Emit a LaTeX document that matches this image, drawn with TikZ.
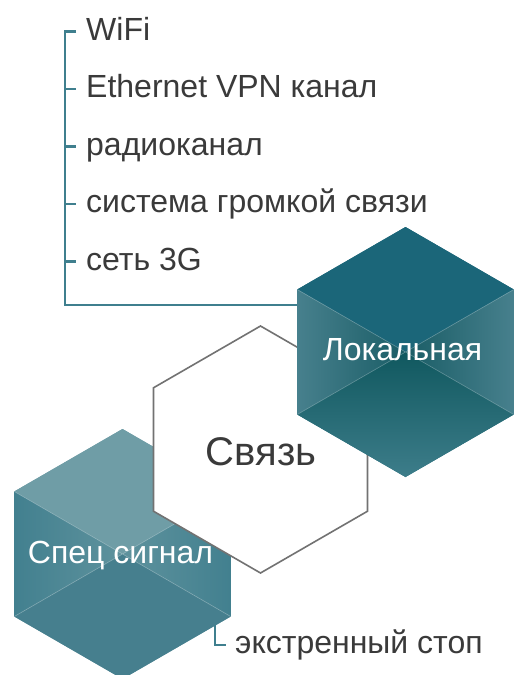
\documentclass[tikz,border=0pt]{standalone}
\usepackage{fontspec}
\setmainfont{Liberation Sans}
\definecolor{txt}{HTML}{3A3A3A}
\definecolor{brk}{HTML}{3F7F8E}
\definecolor{hexline}{HTML}{727272}
% Local hex colours
\definecolor{Ltop}{HTML}{1B6679}
\definecolor{Ledge}{HTML}{47808D}
\definecolor{Lmid}{HTML}{1A5D66}
\definecolor{Lbtop}{HTML}{10585F}
\definecolor{Lbbot}{HTML}{3D7D8A}
% Spec hex colours
\definecolor{Stop}{HTML}{6F9DA6}
\definecolor{Sedge}{HTML}{42808F}
\definecolor{Smid}{HTML}{5E929D}
\definecolor{Sbot}{HTML}{467F8E}
\newcommand{\defhex}[4]{%
  \coordinate (#1-c)  at (#2,#3);
  \coordinate (#1-t)  at (#2,{#3-#4});
  \coordinate (#1-b)  at (#2,{#3+#4});
  \coordinate (#1-ul) at ({#2-0.8660254*#4},{#3-0.5*#4});
  \coordinate (#1-ll) at ({#2-0.8660254*#4},{#3+0.5*#4});
  \coordinate (#1-ur) at ({#2+0.8660254*#4},{#3-0.5*#4});
  \coordinate (#1-lr) at ({#2+0.8660254*#4},{#3+0.5*#4});
}
\newcommand{\hexpath}[1]{(#1-t) -- (#1-ur) -- (#1-lr) -- (#1-b) -- (#1-ll) -- (#1-ul) -- cycle}
\newcommand{\pyrhex}[6]{% name, top, edge, mid, bottom-top, bottom-bottom
  \fill[#2] \hexpath{#1};
  \fill[#2] (#1-ul) -- (#1-t) -- (#1-ur) -- (#1-c) -- cycle;
  \shade[left color=#3, right color=#4] (#1-ul) -- (#1-c) -- (#1-ll) -- cycle;
  \shade[left color=#4, right color=#3] (#1-ur) -- (#1-c) -- (#1-lr) -- cycle;
  \shade[top color=#5, bottom color=#6] (#1-ll) -- (#1-c) -- (#1-lr) -- (#1-b) -- cycle;
  \draw[white, opacity=0.3, line width=0.6pt] (#1-ul) -- (#1-lr) (#1-ur) -- (#1-ll);
}
\tikzset{
  bracket/.style={draw=brk, line width=2.2pt, line cap=butt, line join=miter},
  itemtext/.style={text=txt, font=\fontsize{32}{36}\selectfont, inner sep=0pt},
  hextext/.style={text=white, font=\fontsize{32}{36}\selectfont, inner sep=0pt},
  bigtext/.style={text=txt, font=\fontsize{40}{44}\selectfont, inner sep=0pt},
  outline/.style={draw=hexline, line width=1.6pt, fill=white, line join=miter}
}
\begin{document}
\begin{tikzpicture}[x=1pt,y=-1pt]
\useasboundingbox (0,0) rectangle (525,675);
\fill[white] (0,0) rectangle (525,675);

\defhex{S}{122.5}{554}{125}
\defhex{V}{260.5}{449.5}{123.5}
\defhex{L}{405.5}{352}{125}

% Spec signal hexagon
\pyrhex{S}{Stop}{Sedge}{Smid}{Sbot}{Sbot}
\node[hextext, anchor=base] (spec) at (120.5,563.3) {Спец сигнал};

% Svyaz hexagon
\path[outline] \hexpath{V};
\node[bigtext, anchor=base] (svyaz) at (261,465) {Связь};

% Local hexagon
\pyrhex{L}{Ltop}{Ledge}{Lmid}{Lbtop}{Lbbot}
\node[hextext, anchor=base] (local) at (402.5,360) {Локальная};

% list items
\node[itemtext, anchor=base west] (i1) at (86,40) {WiFi};
\node[itemtext, anchor=base west] (i2) at (86,97.5) {Ethernet VPN канал};
\node[itemtext, anchor=base west] (i3) at (86,155) {радиоканал};
\node[itemtext, anchor=base west] (i4) at (86,212.5) {система громкой связи};
\node[itemtext, anchor=base west] (i5) at (86,270) {сеть 3G};

\coordinate (t1) at (65,31.5);
\coordinate (t2) at (65,89);
\coordinate (t3) at (65,146.5);
\coordinate (t4) at (65,204);
\coordinate (t5) at (65,261.5);
\coordinate (bc) at (65,305);
\draw[bracket] ([xshift=11pt]t1) -- (t1) -- (bc) -- (bc -| L-ul);
\foreach \t in {t2,t3,t4,t5} \draw[bracket] (\t) -- ++(11,0);

% emergency stop
\node[itemtext, anchor=base west] (stop) at (235,653.3) {экстренный стоп};
\coordinate (e0) at (215,625);
\coordinate (e1) at (215,645);
\draw[bracket] (e0) -- (e1) -- ++(11,0);
\end{tikzpicture}
\end{document}
